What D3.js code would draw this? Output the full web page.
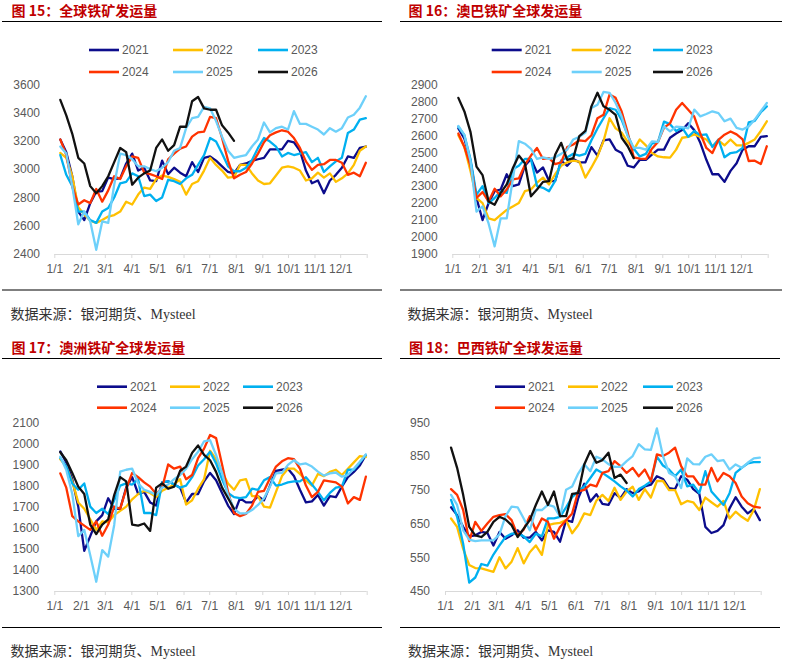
<!DOCTYPE html>
<html><head><meta charset="utf-8">
<script src="https://cdn.jsdelivr.net/npm/d3@7"></script>
<style>
html,body{margin:0;padding:0;background:#fff;}
svg{display:block;}
</style></head>
<body>
<svg id="c" width="785" height="664"></svg>
<script>
// ---------- data ----------
const years = ["2021","2022","2023","2024","2025","2026"];
const monthLabels = ["1/1","2/1","3/1","4/1","5/1","6/1","7/1","8/1","9/1","10/1","11/1","12/1"];
const titles = ["图 15：全球铁矿发运量","图 16：澳巴铁矿全球发运量","图 17：澳洲铁矿全球发运量","图 18：巴西铁矿全球发运量"];
const sourceText = "数据来源：银河期货、Mysteel";

const yTicks1 = [2400,2600,2800,3000,3200,3400,3600];
const yTicks2 = [1900,2000,2100,2200,2300,2400,2500,2600,2700,2800,2900];
const yTicks3 = [1300,1400,1500,1600,1700,1800,1900,2000,2100];
const yTicks4 = [450,550,650,750,850,950];

// 图15 全球
const p1_2021 = [3210,3120,2950,2700,2640,2760,2840,2845,2940,2930,2935,3040,3110,2990,3010,2920,2915,3060,2965,3010,2975,2950,3050,2980,3080,3090,3060,3020,2980,2970,3030,3040,3060,3070,3080,3140,3140,3140,3200,3190,3130,2990,2900,2920,2830,2920,2960,3010,3090,3080,3150,3160];
const p1_2022 = [3115,3080,2950,2730,2680,2635,2620,2640,2665,2675,2700,2770,2750,2820,2870,2860,2930,2955,2945,2930,2910,2820,2895,2915,2990,3080,3030,2990,2940,2945,3030,3030,2970,2920,2895,2900,2955,3010,3020,3010,2990,2920,2935,2975,2940,2970,2910,2935,2970,3030,3130,3160];
const p1_2023 = [3100,2960,2880,2700,2700,2640,2620,2700,2725,2800,2900,2910,2970,2950,2810,2820,2775,2800,2925,2915,2895,2935,2960,3030,3100,3220,3195,3110,3020,2985,2985,3010,3065,3150,3220,3195,3160,3090,3115,3100,3110,3120,3050,3080,2980,3020,3055,3080,3255,3280,3350,3360];
const p1_2024 = [3210,3100,2880,2750,2780,2760,2860,2770,2850,2950,2930,3020,3090,3080,2975,2965,2950,2930,3070,3110,3145,3160,3230,3260,3265,3370,3360,3220,3060,2935,2960,2980,3040,3110,3190,3240,3260,3275,3265,3220,3150,3055,2995,3030,3035,3065,3065,3045,2960,2975,2950,3045];
const p1_2025 = [3160,3110,2880,2610,2700,2630,2430,2630,2620,2890,3110,3100,3070,3020,3020,3000,2985,3010,3050,3130,3150,3290,3360,3370,3440,3430,3340,3230,3130,3080,3090,3100,3160,3210,3330,3260,3290,3300,3280,3410,3320,3320,3300,3280,3245,3290,3265,3290,3365,3385,3435,3515];
const p1_2026 = [3490,3380,3250,3080,3040,2880,2830,2880,2950,3050,3150,3120,2890,2940,2970,2990,3150,3210,3130,3170,3300,3300,3480,3510,3430,3420,3420,3310,3260,3200];

// 图16 澳巴
const p2_2021 = [2640,2580,2450,2230,2100,2200,2270,2280,2370,2300,2310,2420,2460,2380,2410,2330,2330,2450,2420,2460,2440,2440,2530,2480,2570,2575,2515,2495,2420,2410,2455,2455,2485,2515,2515,2585,2610,2630,2670,2630,2555,2455,2370,2370,2325,2390,2435,2515,2535,2535,2590,2595];
const p2_2022 = [2600,2530,2390,2230,2200,2110,2100,2130,2160,2180,2200,2270,2280,2320,2350,2310,2370,2420,2440,2450,2445,2350,2410,2475,2565,2700,2640,2615,2560,2515,2575,2540,2495,2475,2470,2468,2515,2585,2590,2605,2590,2575,2535,2570,2540,2575,2540,2540,2555,2575,2625,2682];
const p2_2023 = [2650,2600,2460,2250,2300,2200,2230,2270,2260,2400,2420,2460,2460,2300,2290,2270,2330,2450,2470,2490,2480,2490,2570,2640,2700,2760,2750,2690,2600,2520,2475,2490,2550,2560,2680,2665,2625,2645,2590,2625,2600,2605,2530,2575,2470,2495,2500,2525,2675,2685,2735,2770];
const p2_2024 = [2610,2530,2420,2230,2265,2210,2285,2240,2280,2340,2345,2425,2480,2525,2460,2465,2430,2440,2530,2545,2570,2565,2600,2700,2720,2840,2820,2740,2615,2470,2462,2460,2520,2560,2645,2670,2750,2790,2750,2710,2610,2525,2495,2572,2603,2622,2605,2575,2448,2450,2430,2535];
const p2_2025 = [2655,2600,2450,2150,2180,2080,1945,2110,2110,2340,2565,2550,2520,2460,2470,2460,2470,2490,2515,2575,2590,2615,2760,2780,2855,2850,2790,2710,2594,2525,2525,2515,2564,2560,2652,2623,2650,2648,2640,2751,2711,2725,2741,2730,2682,2698,2643,2633,2652,2692,2741,2790];
const p2_2026 = [2820,2740,2620,2415,2365,2210,2190,2260,2310,2405,2480,2435,2240,2280,2325,2330,2485,2555,2455,2465,2595,2625,2770,2850,2770,2750,2720,2585,2535,2465];

// 图17 澳洲
const p3_2021 = [1962,1910,1830,1700,1490,1560,1630,1660,1740,1690,1690,1790,1840,1760,1770,1720,1705,1815,1820,1805,1790,1720,1760,1760,1820,1860,1825,1765,1705,1665,1740,1720,1720,1750,1730,1800,1870,1875,1880,1845,1780,1720,1725,1755,1705,1750,1745,1795,1840,1865,1895,1945];
const p3_2022 = [1925,1890,1820,1720,1690,1640,1590,1630,1625,1660,1680,1700,1735,1760,1775,1765,1745,1775,1790,1805,1830,1710,1730,1785,1830,1965,1925,1865,1810,1780,1825,1830,1750,1750,1700,1695,1770,1845,1880,1880,1855,1825,1800,1855,1845,1865,1875,1850,1880,1910,1940,1935];
const p3_2023 = [1930,1890,1810,1780,1810,1700,1670,1690,1665,1730,1800,1810,1805,1830,1670,1670,1660,1815,1820,1805,1790,1800,1840,1895,1925,1960,1905,1830,1765,1745,1740,1745,1785,1780,1825,1840,1800,1805,1815,1820,1820,1840,1805,1770,1730,1765,1790,1795,1875,1875,1910,1945];
const p3_2024 = [1858,1790,1655,1630,1610,1590,1630,1562,1615,1700,1690,1785,1860,1840,1815,1795,1760,1790,1900,1880,1890,1830,1850,1930,1975,2040,2025,1900,1770,1670,1655,1665,1705,1770,1775,1835,1890,1915,1930,1925,1880,1800,1745,1770,1825,1820,1815,1795,1715,1745,1732,1842];
const p3_2025 = [1937,1874,1760,1560,1590,1470,1344,1494,1463,1613,1866,1875,1880,1810,1780,1770,1755,1790,1805,1830,1850,1880,1925,1960,2010,2015,1945,1860,1755,1690,1668,1668,1684,1708,1740,1795,1858,1860,1898,1920,1900,1905,1890,1866,1847,1858,1862,1842,1850,1880,1913,1948];
const p3_2026 = [1958,1920,1860,1795,1760,1615,1570,1615,1640,1755,1840,1820,1615,1610,1620,1585,1790,1810,1785,1795,1870,1890,1955,1990,1945,1920,1865,1790,1740,1690];

// 图18 巴西
const p4_2021 = [698,675,640,612,615,625,622,585,625,605,615,630,608,608,625,600,630,625,596,660,655,725,768,715,737,708,705,740,725,752,740,745,760,765,790,782,755,752,790,780,752,738,640,622,628,645,695,728,700,680,693,660];
const p4_2022 = [665,640,575,527,518,517,512,507,550,517,537,577,532,565,585,557,645,650,652,660,621,645,680,675,718,735,717,756,720,745,759,720,752,727,776,776,749,749,707,717,713,690,727,713,700,717,665,685,670,658,690,752];
const p4_2023 = [720,670,590,475,490,530,525,558,585,610,620,620,612,595,620,612,665,665,670,698,728,745,760,785,810,800,788,775,760,748,730,752,762,775,848,822,810,790,810,760,765,740,805,745,725,705,740,800,815,828,832,832];
const p4_2024 = [752,735,690,598,655,628,650,670,675,678,660,615,632,672,630,665,655,605,640,660,680,745,750,765,760,800,805,835,820,800,815,790,810,775,855,850,860,875,820,790,790,765,765,815,775,800,790,770,730,710,700,697];
const p4_2025 = [735,705,630,602,598,600,600,600,618,672,700,698,665,630,690,690,705,700,670,750,760,798,826,805,848,840,826,818,818,835,850,885,870,868,932,850,800,790,755,843,826,825,848,855,835,838,810,825,815,830,843,845];
const p4_2026 = [875,815,735,640,615,610,625,655,670,662,645,610,635,660,705,745,705,745,672,672,738,740,825,865,830,838,860,785,795,770];

// ---------- styling / layout ----------
const colors = ["#0c0c8c","#ffc000","#00b0f0","#ff3300","#6dd0fa","#111111"];
const panels = [
  {title:titles[0], ticks:yTicks1, series:[p1_2021,p1_2022,p1_2023,p1_2024,p1_2025,p1_2026],
   x0:54.3, x1:366.7, yTop:84.3, yBot:254, labelRight:40, left:11.5, ruleX0:2, ruleX1:382,
   titleY:15.5, ruleTop:21.5, ruleBot:290, srcY:318.5, legRows:[50,72], legCols:[89,173,258]},
  {title:titles[1], ticks:yTicks2, series:[p2_2021,p2_2022,p2_2023,p2_2024,p2_2025,p2_2026],
   x0:452.3, x1:767.7, yTop:84.3, yBot:254, labelRight:437.7, left:408.5, ruleX0:400, ruleX1:782,
   titleY:15.5, ruleTop:21.5, ruleBot:290, srcY:318.5, legRows:[50,72], legCols:[491.7,571.7,653]},
  {title:titles[2], ticks:yTicks3, series:[p3_2021,p3_2022,p3_2023,p3_2024,p3_2025,p3_2026],
   x0:54.3, x1:366.7, yTop:422.3, yBot:591, labelRight:39.3, left:11.5, ruleX0:2, ruleX1:382,
   titleY:353, ruleTop:358.5, ruleBot:627.5, srcY:655.5, legRows:[386.7,407.7], legCols:[97,170,243]},
  {title:titles[3], ticks:yTicks4, series:[p4_2021,p4_2022,p4_2023,p4_2024,p4_2025,p4_2026],
   x0:445, x1:760.7, yTop:422.3, yBot:591, labelRight:430, left:409, ruleX0:400, ruleX1:780,
   titleY:353, ruleTop:358.5, ruleBot:627.5, srcY:655.5, legRows:[386.7,407.7], legCols:[495,568,643]}
];

const svg = d3.select("#c");
const start = new Date(2021,0,1), end = new Date(2022,0,1);
const months = d3.timeMonth.range(start, new Date(2021,11,2));
const fmt = d => monthLabels[d.getMonth()];
const sans = "'Liberation Sans', Arial, 'Noto Sans CJK SC', sans-serif";

panels.forEach(p => {
  const g = svg.append("g");
  // title
  g.append("text").attr("x", p.left).attr("y", p.titleY)
    .attr("font-family","'Noto Sans CJK SC', sans-serif").attr("font-weight","bold")
    .attr("font-size","14px").attr("fill","#c00000").text(p.title);
  g.append("line").attr("x1",p.ruleX0).attr("x2",p.ruleX1).attr("y1",p.ruleTop).attr("y2",p.ruleTop)
    .attr("stroke","#000").attr("stroke-width",1.2);
  g.append("line").attr("x1",p.ruleX0).attr("x2",p.ruleX1).attr("y1",p.ruleBot).attr("y2",p.ruleBot)
    .attr("stroke","#000").attr("stroke-width",1.2);
  g.append("text").attr("x", p.left-1).attr("y", p.srcY)
    .attr("font-family","'Liberation Serif', 'Noto Sans CJK SC', serif")
    .attr("font-size","14px").attr("fill","#333").text(sourceText);

  const x = d3.scaleTime().domain([start,end]).range([p.x0,p.x1]);
  const y = d3.scaleLinear().domain([p.ticks[0], p.ticks[p.ticks.length-1]]).range([p.yBot,p.yTop]);

  // y labels
  const ya = g.append("g").attr("transform",`translate(${p.labelRight},0)`)
    .call(d3.axisLeft(y).tickValues(p.ticks).tickSize(0).tickPadding(0).tickFormat(d3.format("d")));
  ya.select(".domain").remove();
  ya.selectAll("text").attr("font-family",sans).attr("font-size","12px").attr("fill","#595959");

  // x axis
  const xa = g.append("g").attr("transform",`translate(0,${p.yBot})`)
    .call(d3.axisBottom(x).tickValues(months.concat([end])).tickSize(4).tickPadding(6)
      .tickFormat(d => d.getTime()===end.getTime() ? "" : fmt(d)));
  xa.select(".domain").attr("stroke","#d9d9d9").attr("d",`M${p.x0},0.5H${p.x1}`);
  xa.selectAll(".tick line").attr("stroke","#d9d9d9");
  xa.selectAll("text").attr("font-family",sans).attr("font-size","12px").attr("fill","#595959");

  // lines
  const line = d3.line()
    .x((d,i) => x(d3.timeDay.offset(start, 7*(i+1))))
    .y(d => y(d));
  p.series.forEach((s,i) => {
    g.append("path").datum(s).attr("d", line)
      .attr("fill","none").attr("stroke",colors[i]).attr("stroke-width",2.3)
      .attr("stroke-linejoin","round").attr("stroke-linecap","round");
  });

  // legend
  years.forEach((yr,i) => {
    const lx = p.legCols[i%3], ly = p.legRows[Math.floor(i/3)];
    g.append("line").attr("x1",lx).attr("x2",lx+30).attr("y1",ly).attr("y2",ly)
      .attr("stroke",colors[i]).attr("stroke-width",2.6);
    g.append("text").attr("x",lx+33).attr("y",ly).attr("dy","0.35em")
      .attr("font-family",sans).attr("font-size","12px").attr("fill","#595959").text(yr);
  });
});
</script>
</body></html>
